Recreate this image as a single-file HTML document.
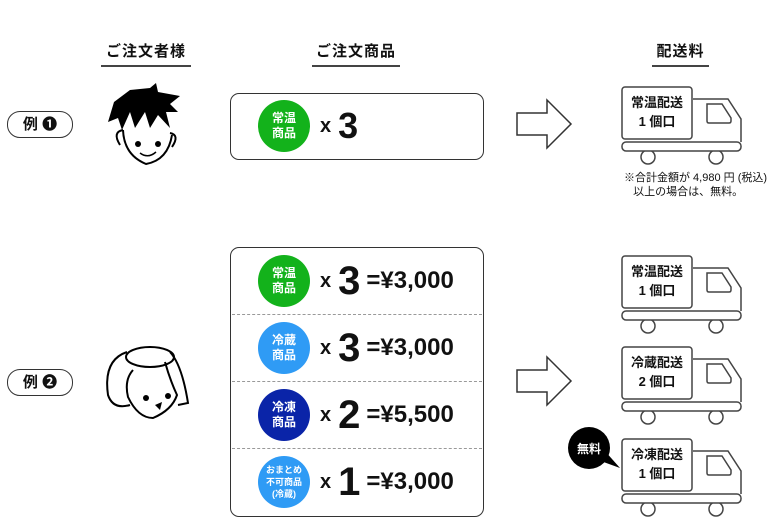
<!DOCTYPE html>
<html><head><meta charset="utf-8"><style>
body{margin:0;width:780px;height:522px;background:#fff;position:relative;overflow:hidden;font-family:"Liberation Sans","Noto Sans CJK JP",sans-serif;color:#111}
.a{position:absolute}
.h{font-weight:bold;font-size:15px;text-align:center;border-bottom:2px solid #444;padding-bottom:4px;letter-spacing:1px}
.pill{position:absolute;left:7px;width:64px;height:25px;border:1.5px solid #333;border-radius:13px;font-weight:bold;font-size:15px;text-align:center;line-height:25px}
.box{position:absolute;left:230px;width:252px;border:1.5px solid #333;border-radius:9px}
.c{position:absolute;width:52px;height:52px;border-radius:50%;color:#fff;font-weight:bold;font-size:12px;line-height:15px;text-align:center;display:flex;align-items:center;justify-content:center}
.row{position:absolute;left:320px;height:52px;display:flex;align-items:center;font-weight:bold;white-space:nowrap}
.x{font-size:20px;margin-right:7px}
.n{font-size:40px;font-family:"Liberation Sans",sans-serif;margin-right:6px}
.p{font-size:24px}
.dash{position:absolute;left:232px;width:250px;border-top:1px dashed #999}
.tt{position:absolute;width:70px;text-align:center;font-weight:bold;font-size:13px;line-height:19px}
</style></head><body>
<div class="a h" style="left:101px;top:40px;width:90px">ご注文者様</div>
<div class="a h" style="left:312px;top:40px;width:88px">ご注文商品</div>
<div class="a h" style="left:652px;top:40px;width:57px">配送料</div>

<div class="pill" style="top:111px">例 ❶</div>
<div class="pill" style="top:369px">例 ❷</div>

<svg class="a" style="left:0;top:0" width="780" height="522">
<g stroke="#000" stroke-width="2" fill="none">
<path d="M123 130 Q124 155 146 164 Q168 160 172 135" />
<path d="M123 130 Q112 132 120 145" /><path d="M170 133 Q180 135 172 147"/>
</g>
<path d="M108 122 L114 102 L130 90 L150 88 L156 83 L158 92 L180 96 L170 104 L178 112 L166 112 L170 128 L158 115 L150 128 L145 112 L135 128 L130 112 L122 130 L118 118 Z" fill="#000"/>
<circle cx="138" cy="144" r="3"/><circle cx="158" cy="144" r="3"/>
<path d="M140 153 Q148 159 156 152" stroke="#000" stroke-width="1.5" fill="#fff"/>
<g stroke="#000" stroke-width="2" fill="none">
<ellipse cx="150" cy="357" rx="24" ry="10"/>
<path d="M127 352 Q103 360 108 395 Q113 410 130 405"/>
<path d="M170 352 Q182 365 188 403 L178 405"/>
<path d="M133 370 Q124 380 128 397 Q138 418 153 418 Q172 410 177 395 Q170 380 165 362"/>
</g>
<circle cx="146" cy="398" r="3"/><circle cx="168" cy="396" r="3"/>
<path d="M155 405 L162 402 L160 410 Z" fill="#000"/>
<g fill="#fff" stroke="#333" stroke-width="1.5">
<path d="M517 113 L547 113 L547 100 L571 124 L547 148 L547 135 L517 135 Z"/>
<path d="M517 370 L547 370 L547 357 L571 381 L547 405 L547 392 L517 392 Z"/>
</g>
<defs><g id="tr" fill="#fff" stroke="#444" stroke-width="1.5">
<rect x="622" y="0" width="70" height="52" rx="3"/>
<path d="M693 12 L728 12 L741 32 L741 55"/>
<path d="M707 17 L722 17 L731 31 L731 34 Q731 36 729 36 L709 36 Q707 36 707 34 Z"/>
<circle cx="648" cy="70" r="7"/><circle cx="716" cy="70" r="7"/>
<rect x="622" y="55" width="119" height="9" rx="4"/>
</g></defs>
<use href="#tr" y="87"/><use href="#tr" y="256"/><use href="#tr" y="347"/><use href="#tr" y="439"/>
<circle cx="589" cy="448" r="21" fill="#000"/>
<path d="M598 460 L620 468 L604 450 Z" fill="#000"/>
</svg>
<div class="a" style="left:570px;top:440px;width:38px;text-align:center;color:#fff;font-weight:bold;font-size:12px">無料</div>

<div class="tt" style="left:622px;top:93px">常温配送<br>1 個口</div>
<div class="tt" style="left:622px;top:262px">常温配送<br>1 個口</div>
<div class="tt" style="left:622px;top:353px">冷蔵配送<br>2 個口</div>
<div class="tt" style="left:622px;top:445px">冷凍配送<br>1 個口</div>
<div class="a" style="left:624px;top:171px;font-size:11px;line-height:14px">※合計金額が 4,980 円 (税込)<br>&nbsp;&nbsp;&nbsp;以上の場合は、無料。</div>

<div class="box" style="top:93px;height:65px"></div>
<div class="c" style="left:258px;top:100px;background:#13b21b">常温<br>商品</div>
<div class="row" style="top:100px"><span class="x">x</span><span class="n" style="font-size:36px">3</span></div>

<div class="box" style="top:247px;height:268px"></div>
<div class="dash" style="top:314px"></div><div class="dash" style="top:381px"></div><div class="dash" style="top:448px"></div>
<div class="c" style="left:258px;top:255px;background:#13b21b">常温<br>商品</div>
<div class="c" style="left:258px;top:322px;background:#2f9bf5">冷蔵<br>商品</div>
<div class="c" style="left:258px;top:389px;background:#0a24a8">冷凍<br>商品</div>
<div class="c" style="left:258px;top:456px;background:#2f9bf5;font-size:9px;line-height:12px">おまとめ<br>不可商品<br>(冷蔵)</div>
<div class="row" style="top:255px"><span class="x">x</span><span class="n">3</span><span class="p">=¥3,000</span></div>
<div class="row" style="top:322px"><span class="x">x</span><span class="n">3</span><span class="p">=¥3,000</span></div>
<div class="row" style="top:389px"><span class="x">x</span><span class="n">2</span><span class="p">=¥5,500</span></div>
<div class="row" style="top:456px"><span class="x">x</span><span class="n">1</span><span class="p">=¥3,000</span></div>
</body></html>
